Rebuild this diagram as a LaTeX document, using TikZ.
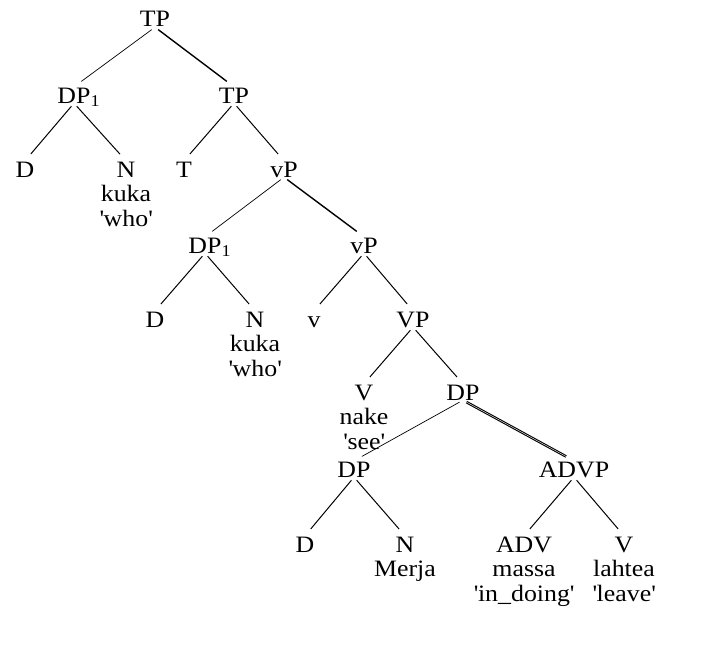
\documentclass[tikz,border=0pt]{standalone}
\usepackage{fontspec}
\setmainfont{Liberation Serif}[FakeStretch=1.1]
\usetikzlibrary{positioning}
\newcommand{\gl}[1]{\textquotesingle#1\textquotesingle}
\newcommand{\stk}[1]{\begin{tabular}[t]{@{}c@{}}#1\end{tabular}}

\begin{document}
\begin{tikzpicture}[x=1pt,y=-1pt,
cat/.style={anchor=base,inner sep=0pt,text height=16pt,text depth=0pt,
  font={\fontsize{23.5}{24.5}\selectfont}},
branch/.style={line width=1pt,shorten <=4pt,shorten >=9pt},
light/.style={branch,line width=0.7pt},
heavy/.style={branch,line width=1.4pt},
twin/.style={branch,double,line width=1.1pt,double distance=0.4pt}]
\useasboundingbox (0,0) rectangle (718,645);

\node[cat] (tp) at (155,27) {TP};
\node[cat] (dpa) at (74,103) {DP\rlap{\textsubscript{1}}};
\node[cat] (tpb) at (234,103) {TP};
\node[cat] (da) at (25,177) {D};
\node[cat] (na) at (126,177) {\stk{N\\kuka\\\gl{who}}};
\node[cat] (t) at (184,177) {T};
\node[cat] (vpa) at (284,177) {vP};

\node[cat] (dpb) at (205,253) {DP\rlap{\textsubscript{1}}};
\node[cat] (vpb) at (364,253) {vP};
\node[cat] (db) at (155,327) {D};
\node[cat] (nb) at (255,327) {\stk{N\\kuka\\\gl{who}}};
\node[cat] (v) at (314,327) {v};
\node[cat] (vp) at (413,327) {VP};

\node[cat] (vv) at (364,400) {\stk{V\\nake\\\gl{see}}};
\node[cat] (dpc) at (463,400) {DP};
\node[cat] (dpd) at (354,477) {DP};
\node[cat] (advp) at (574,477) {ADVP};
\node[cat] (dd) at (305,552) {D};
\node[cat] (nd) at (405,552) {\stk{N\\Merja}};
\node[cat] (adv) at (524,552) {\stk{ADV\\massa\\\gl{in\_doing}}};
\node[cat] (vd) at (624,552) {\stk{V\\lahtea\\\gl{leave}}};

\draw[light] (tp.south) -- (dpa.north);
\draw[heavy] (tp.south) -- (tpb.north);
\draw[branch] (dpa.south) -- (da.north);
\draw[branch] (dpa.south) -- (na.north);
\draw[branch] (tpb.south) -- (t.north);
\draw[branch] (tpb.south) -- (vpa.north);
\draw[light] (vpa.south) -- (dpb.north);
\draw[heavy] (vpa.south) -- (vpb.north);
\draw[branch] (dpb.south) -- (db.north);
\draw[branch] (dpb.south) -- (nb.north);
\draw[branch] (vpb.south) -- (v.north);
\draw[branch] (vpb.south) -- (vp.north);
\draw[branch] (vp.south) -- (vv.north);
\draw[branch] (vp.south) -- (dpc.north);
\draw[light] (dpc.south) -- (dpd.north);
\draw[twin] (dpc.south) -- (advp.north);
\draw[branch] (dpd.south) -- (dd.north);
\draw[branch] (dpd.south) -- (nd.north);
\draw[branch] (advp.south) -- (adv.north);
\draw[branch] (advp.south) -- (vd.north);
\end{tikzpicture}
\end{document}
